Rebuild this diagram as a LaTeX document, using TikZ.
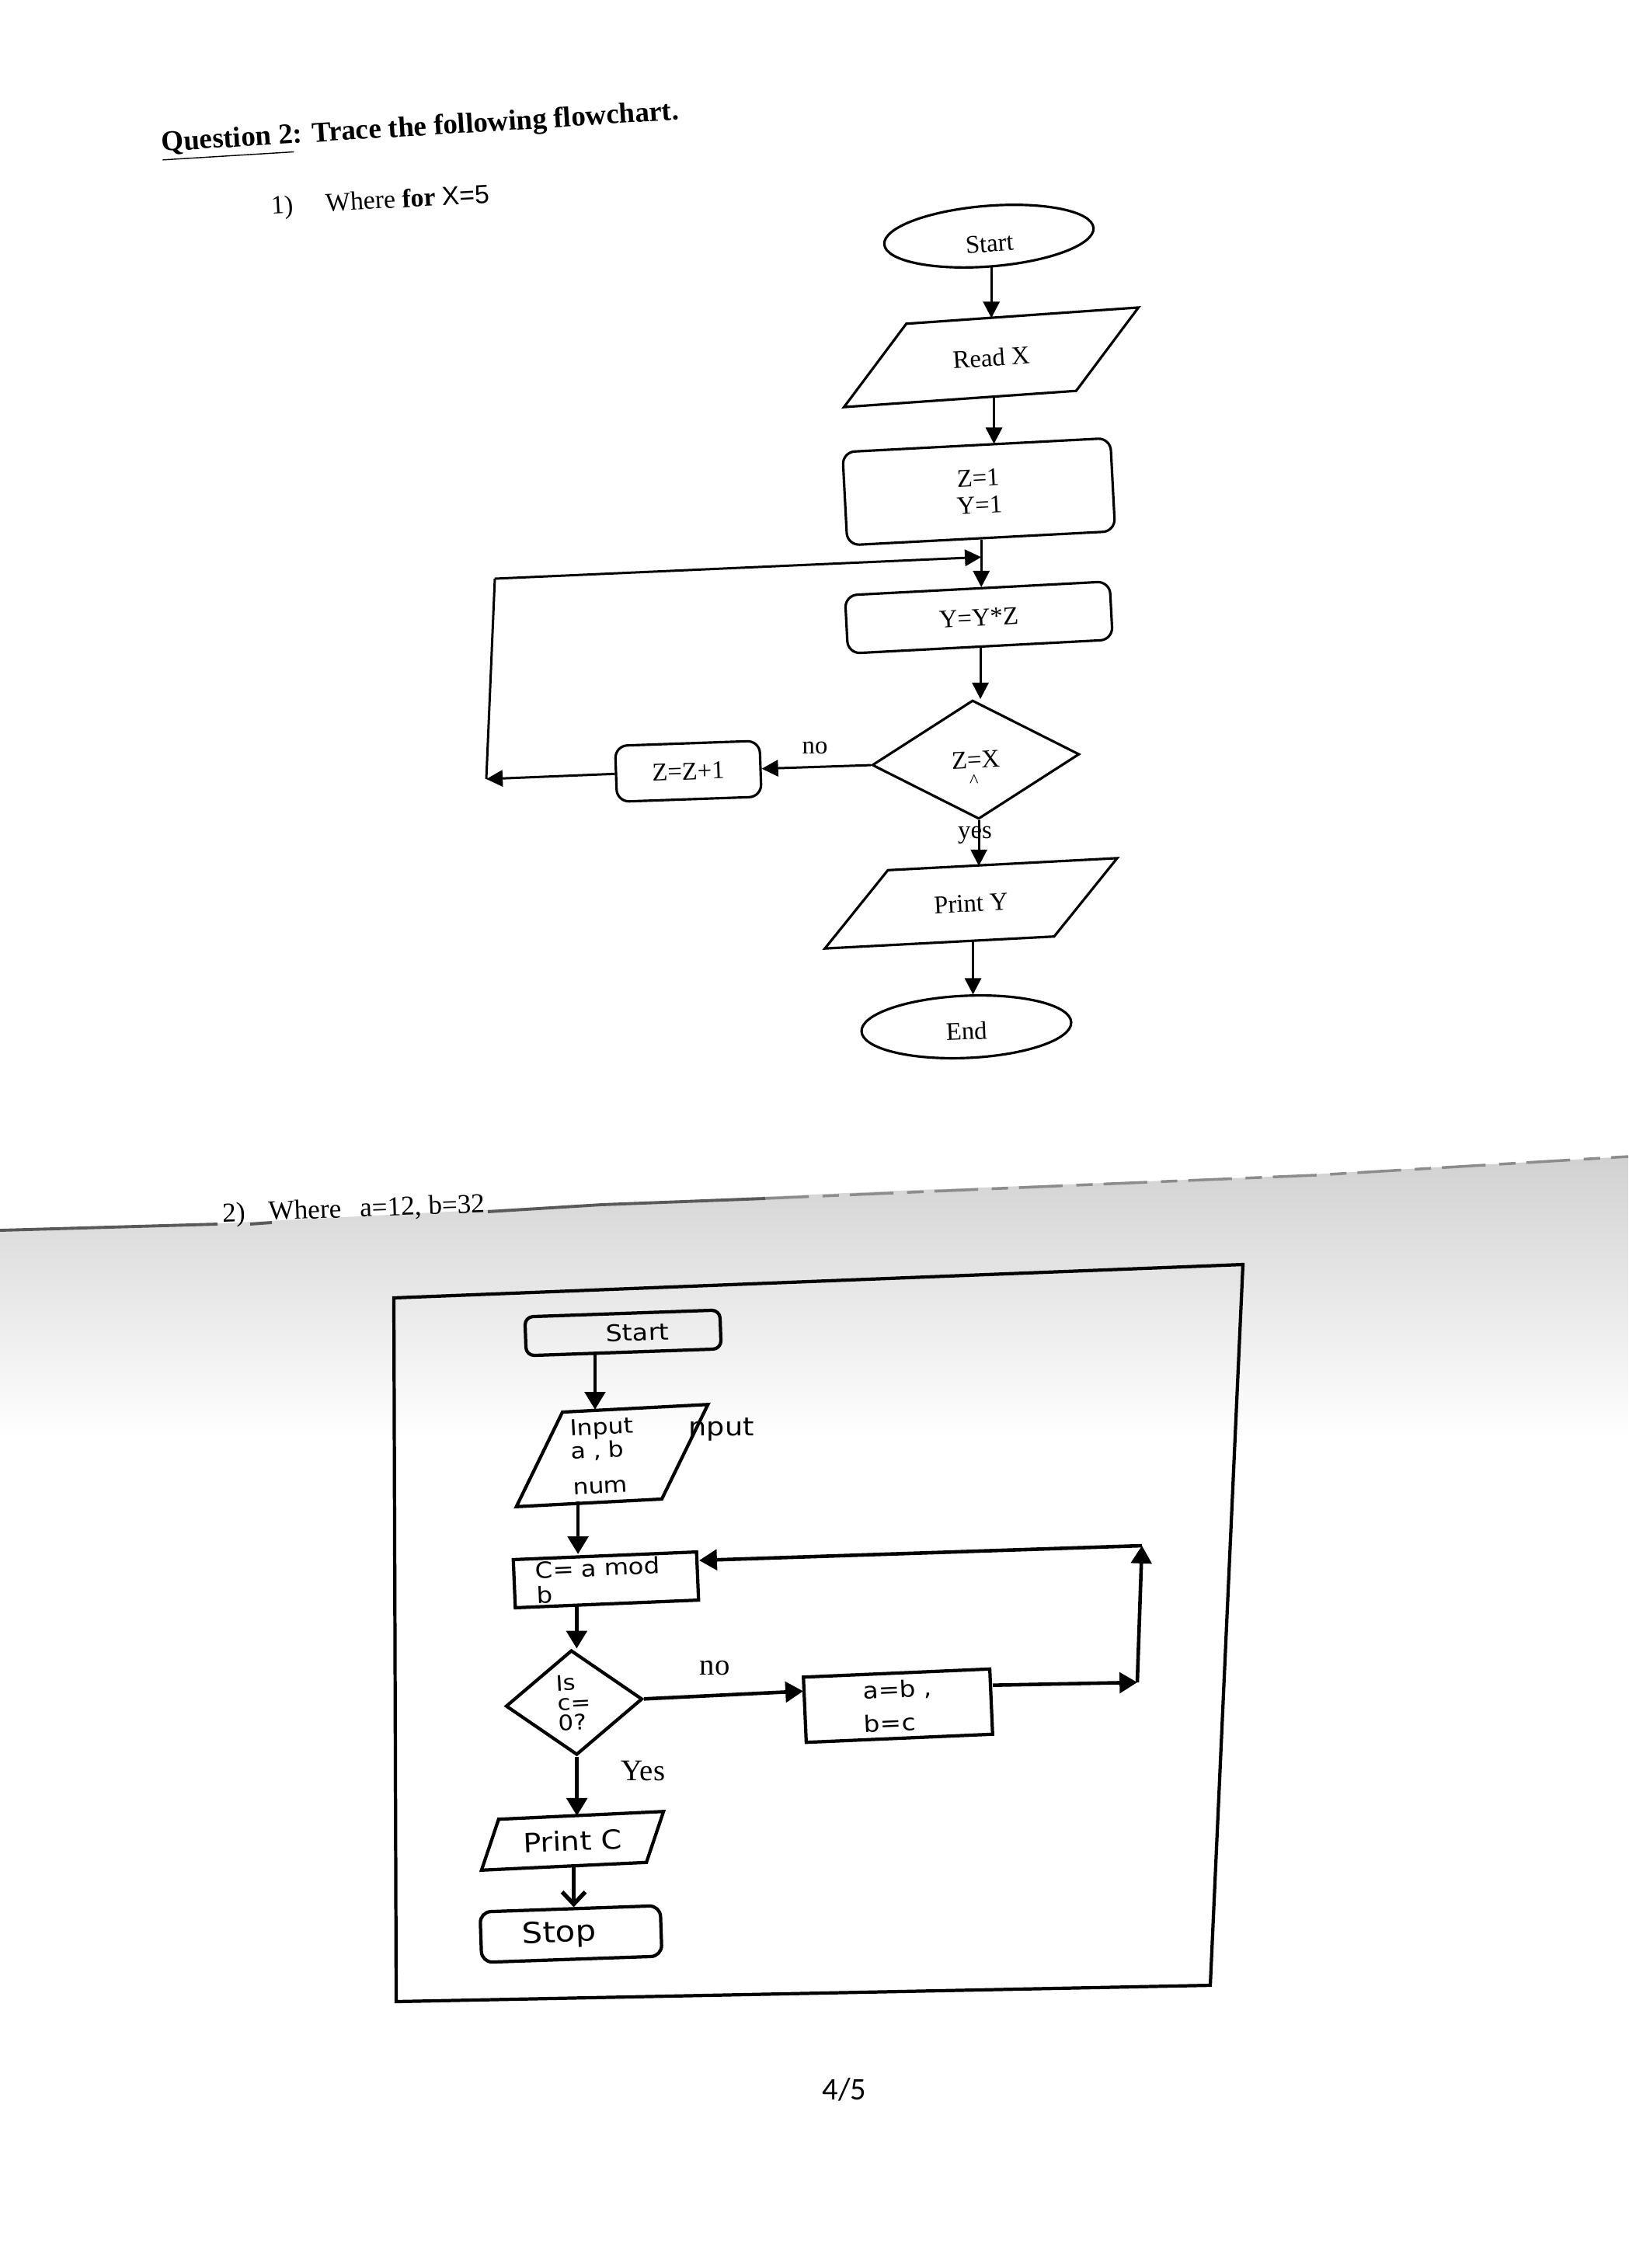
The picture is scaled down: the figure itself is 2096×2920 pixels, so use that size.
\documentclass[tikz,border=0pt]{standalone}
\usepackage{fontspec}
\setmainfont{Liberation Serif}
\newfontfamily\bsans[FakeStretch=1.12]{DejaVu Sans}
\newfontfamily\lsans{Liberation Sans}
\newfontfamily\pagenumfont{Carlito}
\usetikzlibrary{shapes.geometric,arrows.meta,calc}
\newcommand\tchfont{\fontsize{9.3}{10}\selectfont}
\newcommand\bsz[2]{\bsans\fontsize{#1}{#2}\selectfont\lineskiplimit=-10pt\relax}
% parallelogram drawn around a (rotated) rectangle node: #1 node, #2 shift fraction, #3 style
\newcommand\drawpara[3]{%
  \pgfmathsetmacro\paraA{1+#2}\pgfmathsetmacro\paraB{1-#2}%
  \draw[#3] ($(#1.north west)!#2!(#1.north east)$) -- ($(#1.north west)!\paraA!(#1.north east)$)
    -- ($(#1.south west)!\paraB!(#1.south east)$) -- ($(#1.south west)!-#2!(#1.south east)$) -- cycle;}
\begin{document}
\begin{tikzpicture}[x=0.01cm,y=-0.01cm,
  tl/.style={line width=0.85pt},
  tarr/.style={line width=0.85pt,-{Triangle[width=6pt,length=6pt]}},
  tn/.style={draw,line width=0.9pt,inner sep=1pt,font=\tchfont,align=center},
  tround/.style={tn,rectangle,rounded corners=4.5pt},
  tell/.style={tn,ellipse},
  tbody/.style={rectangle,inner sep=1pt,font=\tchfont,align=center},
  tdia/.style={tn,diamond},
  tedge/.style={line width=0.9pt,line join=miter},
  bn/.style={draw,line width=1.2pt,inner sep=1pt},
  bbody/.style={rectangle,inner sep=1pt},
  bedge/.style={line width=1.2pt,line join=miter},
  barr/.style={line width=1.3pt,-{Triangle[width=7.5pt,length=6.5pt]}},
  bbarb/.style={line width=1.5pt,-{Straight Barb[width=8.5pt,length=4.5pt]}},
  lbl/.style={inner sep=0pt}
]
\useasboundingbox (0,0) rectangle (2096,2920);
\fill[white] (0,0) rectangle (2096,2920);

% shaded lower sheet and fold line
\shade[top color=black!18,bottom color=white] (0,1585) -- (286,1575) -- (774,1550) -- (1157,1533) -- (1635,1515) -- (2096,1489) -- (2096,1850) -- (0,1850) -- cycle;
\draw[black!65,line width=1.1pt] (0,1584) -- (280,1576);
\draw[black!65,line width=1.1pt] (322,1576) -- (350,1574);
\draw[black!65,line width=1.1pt] (628,1560) -- (774,1551) -- (985,1543);
\draw[black!45,line width=1pt,dash pattern=on 16pt off 5pt on 6pt off 4pt] (985,1543) -- (1406,1525) -- (1693,1513) -- (2096,1489);

% header texts
\node[lbl,anchor=base west,rotate=3.5,font=\fontsize{10.5}{12}\selectfont\bfseries] (title) at (208,195) {\underline{Question 2}: Trace the following flowchart.};
\node[lbl,anchor=base west,rotate=3,font=\fontsize{9.6}{11}\selectfont] (q1) at (349,276) {1)\hspace{0.42cm}Where {\bfseries for} {\lsans X=5}};
\node[lbl,anchor=base west,rotate=2,font=\fontsize{10}{12}\selectfont] (q2) at (286,1573) {2)\hspace{0.3cm}Where\hspace{0.24cm}a=12, b=32};

% ---------- flowchart 1 ----------
\node[tell,rotate=4.5,minimum width=2.7cm,minimum height=0.78cm,text height=11.5pt] (tstart) at (1273,304) {Start};
\node[tbody,rotate=4,minimum width=2.98cm,minimum height=1.0cm] (readx) at (1276,460) {Read X};
\drawpara{readx}{0.146}{tedge}
\node[tround,rotate=3,minimum width=3.45cm,minimum height=1.2cm] (z1) at (1260,633) {Z=1\\Y=1};
\node[tround,rotate=3,minimum width=3.41cm,minimum height=0.75cm] (yyz) at (1260,795) {Y=Y*Z};
\node[tdia,rotate=3,minimum width=2.67cm,minimum height=1.53cm,inner sep=0pt] (zx) at (1256,978) {Z=X};
\node[lbl,anchor=base,font=\fontsize{7}{8}\selectfont] (caret) at (1254,1013) {\textasciicircum};
\node[tround,rotate=2,minimum width=1.86cm,minimum height=0.72cm] (zz1) at (886,993) {Z=Z+1};
\node[tbody,rotate=3,minimum width=2.94cm,minimum height=0.95cm] (printy) at (1250,1163) {Print Y};
\drawpara{printy}{0.146}{tedge}
\node[tell,rotate=2.5,minimum width=2.7cm,minimum height=0.8cm,text height=9.5pt] (tend) at (1244,1322) {End};

\node[lbl,font=\tchfont] (tno) at (1049,963) {no};
\node[lbl,font=\tchfont] (tyes) at (1255,1075) {yes};

\draw[tarr] (tstart.south) -- (tstart.south |- readx.north);
\draw[tarr] (readx.south) -- (readx.south |- z1.north);
\draw[tarr] (z1.south) -- (z1.south |- yyz.north);
\coordinate (join) at ($(z1.south)!0.37!(z1.south |- yyz.north)$);
\draw[tarr] (yyz.south) -- (yyz.south |- zx.north);
\draw[tarr] (zx.west) -- (zz1.east);
\draw[tarr] (zx.south) -- (zx.south |- printy.north);
\draw[tarr] (printy.south) -- (printy.south |- tend.north);
\coordinate (lbl) at (626,1003);
\coordinate (ltl) at (637,745);
\draw[tarr] (zz1.west) -- (lbl);
\draw[tl] (lbl) -- (ltl);
\draw[tarr] (ltl) -- (join);

% ---------- flowchart 2 ----------
\draw[line width=1.2pt] (507,1671) -- (1600,1628) -- (1558,2556) -- (510,2577) -- cycle;

\node[bn,rectangle,rounded corners=3pt,rotate=2,minimum width=2.51cm,minimum height=0.5cm,font=\bsz{8.4}{10}] (bstart) at (802,1716) {\hspace*{0.38cm}Start};
\node[bbody,rotate=3,minimum width=1.86cm,minimum height=1.17cm,font=\bsz{8}{8.6},text width=1.05cm,align=left] (binput) at (788,1874) {Input\\a , b\\[4.5pt]num};
\drawpara{binput}{0.175}{bedge}
\node[lbl,anchor=west,font=\bsz{9.3}{10}] (nput) at (886,1840) {nput};
\node[bn,rectangle,rotate=2.4,inner sep=0pt,minimum width=2.36cm,minimum height=0.62cm,font=\bsz{8.2}{9.1},text width=1.8cm,align=left] (bmod) at (780,2034) {C= a mod\\b};
\node[bn,diamond,rotate=3,minimum width=1.76cm,minimum height=1.35cm,inner sep=0pt,font=\bsz{7.8}{7.3},align=left] (bdia) at (739,2192) {Is\\c=\\0?};
\node[bn,rectangle,rotate=2.5,minimum width=2.4cm,minimum height=0.84cm,font=\bsz{8.3}{12.2},align=left] (bab) at (1156,2196) {a=b ,\\b=c};
\node[bbody,rotate=2.7,minimum width=2.11cm,minimum height=0.63cm,font=\bsz{9.7}{11}] (bprint) at (737,2370) {Print C};
\drawpara{bprint}{0.059}{bedge}
\node[bn,rectangle,rounded corners=4pt,rotate=2,minimum width=2.32cm,minimum height=0.65cm,font=\bsz{10.6}{12}] (bstop) at (735,2490) {Stop\hspace*{0.3cm}};

\node[lbl,font=\fontsize{11}{12}\selectfont] (bno) at (920,2148) {no};
\node[lbl,font=\fontsize{11}{12}\selectfont] (byes) at (828,2280) {Yes};

\draw[barr] ([xshift=-0.37cm]bstart.south) -- ([xshift=-0.37cm]bstart.south |- binput.north);
\draw[barr] ([xshift=-0.47cm]binput.south) -- ([xshift=-0.47cm]binput.south |- bmod.north);
\draw[barr] ([xshift=-0.39cm]bmod.south) -- ([xshift=-0.39cm]bmod.south |- bdia.north);
\draw[barr] (bdia.south) -- (bdia.south |- bprint.north);
\draw[bbarb] (bprint.south) -- (bprint.south |- bstop.north);
\draw[barr] (bdia.east) -- ([yshift=0.24cm]bab.west);
\coordinate (bbr) at (1464,2166);
\coordinate (btr) at (1470,1990);
\draw[barr] ([yshift=0.21cm]bab.east) -- (bbr);
\draw[barr] (bbr) -- (btr);
\draw[barr] (btr) -- ([yshift=0.2cm]bmod.east);

\node[font=\pagenumfont\fontsize{11.5}{13}\selectfont] (pg) at (1087,2690) {4/5};
\end{tikzpicture}
\end{document}
